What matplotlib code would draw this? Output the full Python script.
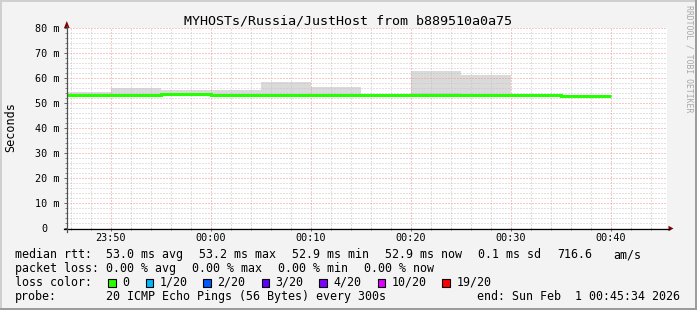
import matplotlib
matplotlib.use('Agg')
import matplotlib.pyplot as plt
from matplotlib.transforms import Affine2D
from matplotlib.patches import Rectangle, Polygon
from matplotlib.lines import Line2D
from matplotlib.ticker import MultipleLocator, FixedLocator

# ---------------- data ----------------
# 5-minute bins, minutes relative to 00:00 (negative = before midnight)
bin_edges = [-15, -10, -5, 0, 5, 10, 15, 20, 25, 30, 35, 40]
median_ms = [53.1, 53.1, 53.5, 53.1, 53.1, 53.1, 53.1, 53.1, 53.1, 53.1, 52.7]
smoke_min_ms = [52.7, 52.7, 53.1, 52.7, 52.7, 52.7, 52.7, 52.7, 52.7, 52.7, 52.3]
smoke_inner_ms = [53.5, 53.5, 53.9, 53.5, 53.5, 53.5, 53.5, 54.2, 53.6, 53.5, 53.0]
smoke_max_ms = [54.3, 56.0, 55.2, 55.2, 58.4, 56.3, 53.5, 62.8, 61.2, 53.4, 53.0]

x_tick_pos = [-10, 0, 10, 20, 30, 40]
x_tick_labels = ["23:50", "00:00", "00:10", "00:20", "00:30", "00:40"]
y_tick_pos = [0, 10, 20, 30, 40, 50, 60, 70, 80]
y_tick_labels = ["0  ", "10 m", "20 m", "30 m", "40 m", "50 m", "60 m", "70 m", "80 m"]

title = "MYHOSTs/Russia/JustHost from b889510a0a75"
median_row = [("median rtt:", 16), ("53.0 ms avg", 107), ("53.2 ms max", 200),
              ("52.9 ms min", 293.3), ("52.9 ms now", 386), ("0.1 ms sd", 479.3),
              ("716.6", 558.3), ("am/s", 614)]
loss_row = [("packet loss:", 16), ("0.00 % avg", 107.3), ("0.00 % max", 193.3),
            ("0.00 % min", 279.3), ("0.00 % now", 365)]
loss_labels = ["0", "1/20", "2/20", "3/20", "4/20", "10/20", "19/20"]
loss_colors = ["#26ff00", "#00b8ff", "#0059ff", "#5e00ff", "#7e00ff", "#dd00ff", "#ff0000"]
loss_square_x = [108.3, 145.7, 203.3, 261.7, 319.3, 377.7, 442.3]
loss_label_x = [123.3, 160.7, 218.3, 276.7, 334, 392.7, 457.3]
probe_row = [("probe:", 16), ("20 ICMP Echo Pings (56 Bytes) every 300s", 107),
             ("end: Sun Feb  1 00:45:34 2026", 478.3)]

# ---------------- figure ----------------
W, H = 697, 310
MONO = "DejaVu Sans Mono"
fig = plt.figure(figsize=(W / 100, H / 100), dpi=100, facecolor="#F3F3F3")
PX = Affine2D().scale(1 / W, -1 / H).translate(0, 1) + fig.transFigure

ax = fig.add_axes([66.5 / W, (H - 228) / H, 600 / W, 200 / H])
ax.set_facecolor("white")
ax.set_xlim(-14.43, 45.57)
ax.set_ylim(0, 80)
for s in ax.spines.values():
    s.set_visible(False)

# smoke
ax.stairs(smoke_max_ms, bin_edges, baseline=smoke_min_ms, fill=True,
          color="#DADADA", lw=0, zorder=1)
ax.stairs(smoke_inner_ms, bin_edges, baseline=smoke_min_ms, fill=True,
          color="#CDCDCD", lw=0, zorder=1.1)
# median line
ax.stairs(median_ms, bin_edges, baseline=None, color=loss_colors[0],
          lw=2.2, zorder=3)

# grid
ax.xaxis.set_major_locator(FixedLocator(x_tick_pos))
ax.xaxis.set_minor_locator(MultipleLocator(2))
ax.yaxis.set_major_locator(FixedLocator(y_tick_pos))
ax.yaxis.set_minor_locator(MultipleLocator(2))
ax.set_xticklabels(x_tick_labels, family=MONO, fontsize=7.3)
ax.set_yticklabels(y_tick_labels, family=MONO, fontsize=7.3)
ax.set_axisbelow("line")
ax.grid(which="minor", color="#C4C4C4", ls=(0, (1, 2)), lw=0.72)
ax.grid(which="major", color="#F29090", ls=(0, (1, 2)), lw=0.72)
ax.tick_params(axis="both", which="major", length=2.2, width=0.72,
               color="#666666", direction="out")
ax.tick_params(axis="both", which="minor", length=1.5, width=0.72,
               color="#888888", direction="out")
ax.tick_params(axis="x", which="major", pad=1.5)
ax.tick_params(axis="y", which="major", pad=2.5)

# axis lines with arrows
fig.add_artist(Line2D([63.5, 669], [228.5, 228.5], transform=PX, color="black", lw=0.9))
fig.add_artist(Line2D([66.8, 66.8], [231.5, 26], transform=PX, color="#505050", lw=0.9))
fig.add_artist(Polygon([[668.5, 225.8], [673.5, 228.5], [668.5, 231.2]], closed=True,
                       transform=PX, color="#7F0000", lw=0))
fig.add_artist(Polygon([[64.0, 28.0], [66.8, 21.0], [69.6, 28.0]], closed=True,
                       transform=PX, color="#7F0000", lw=0))

# title / labels
fig.text(348, 24, title, transform=PX, family=MONO, fontsize=9.6,
         ha="center", va="baseline")
fig.text(10.5, 127.5, "Seconds", transform=PX, family=MONO, fontsize=8.5,
         rotation=90, ha="center", va="center")
fig.text(688.5, 5, "RRDTOOL / TOBI OETIKER", transform=PX, family=MONO,
         fontsize=5.9, color="#A8A8A8", rotation=270, ha="center", va="top")

LS = 8.4
for s, x in median_row:
    fig.text(x - 1, 258.3, s, transform=PX, family=MONO, fontsize=LS, va="baseline")
for s, x in loss_row:
    fig.text(x - 1, 272.1, s, transform=PX, family=MONO, fontsize=LS, va="baseline")
fig.text(15, 285.9, "loss color:", transform=PX, family=MONO, fontsize=LS, va="baseline")
for lab, col, sx, lx in zip(loss_labels, loss_colors, loss_square_x, loss_label_x):
    fig.add_artist(Rectangle((sx, 279.0), 7.7, 7.7, transform=PX, facecolor=col,
                             edgecolor="black", lw=0.8))
    fig.text(lx - 1, 285.9, lab, transform=PX, family=MONO, fontsize=LS, va="baseline")
for s, x in probe_row:
    fig.text(x - 1, 299.7, s, transform=PX, family=MONO, fontsize=LS, va="baseline")

# frame shading
fig.add_artist(Rectangle((0, 0), W, 1.5, transform=PX, color="#CFCFCF", lw=0))
fig.add_artist(Rectangle((0, 0), 1.5, H, transform=PX, color="#CFCFCF", lw=0))
fig.add_artist(Rectangle((0, H - 2.5), W, 2.5, transform=PX, color="#9C9C9C", lw=0))
fig.add_artist(Rectangle((W - 2.5, 0), 2.5, H, transform=PX, color="#9C9C9C", lw=0))

fig.savefig("out.png", dpi=100, facecolor=fig.get_facecolor())
